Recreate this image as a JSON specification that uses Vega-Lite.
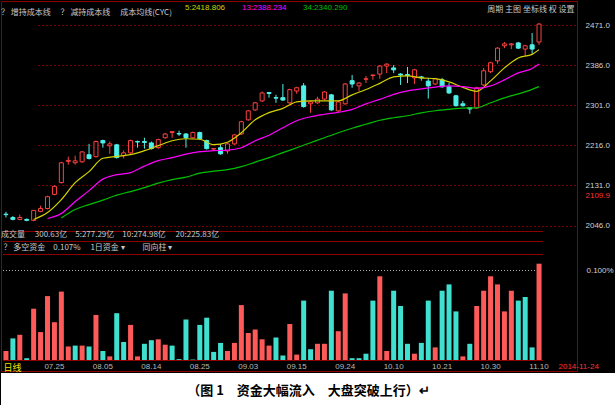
{
  "$schema": "https://vega.github.io/schema/vega-lite/v6.json",
  "background": "#000000",
  "padding": 0,
  "spacing": 0,
  "config": {
    "view": {"stroke": null},
    "font": "Noto Sans CJK SC",
    "axis": {"labelFont": "Liberation Sans", "titleFont": "Noto Sans CJK SC"}
  },
  "datasets": {
    "k": [
      {"d":"07.16","o":2070,"h":2075,"l":2063,"c":2069},
      {"d":"07.17","o":2063,"h":2066,"l":2057,"c":2059},
      {"d":"07.18","o":2059,"h":2069,"l":2057,"c":2063},
      {"d":"07.21","o":2059,"h":2061,"l":2055,"c":2057},
      {"d":"07.22","o":2057,"h":2079,"l":2055,"c":2078},
      {"d":"07.23","o":2076,"h":2088,"l":2074,"c":2082},
      {"d":"07.24","o":2082,"h":2109,"l":2080,"c":2107},
      {"d":"07.25","o":2112,"h":2131,"l":2110,"c":2129},
      {"d":"07.28","o":2137,"h":2181,"l":2135,"c":2179},
      {"d":"07.29","o":2182,"h":2192,"l":2175,"c":2184},
      {"d":"07.30","o":2179,"h":2194,"l":2175,"c":2183},
      {"d":"07.31","o":2181,"h":2204,"l":2179,"c":2202},
      {"d":"08.01","o":2196,"h":2219,"l":2186,"c":2188},
      {"d":"08.04","o":2192,"h":2226,"l":2190,"c":2224},
      {"d":"08.05","o":2226,"h":2228,"l":2211,"c":2221},
      {"d":"08.06","o":2215,"h":2224,"l":2198,"c":2219},
      {"d":"08.07","o":2217,"h":2219,"l":2188,"c":2190},
      {"d":"08.08","o":2194,"h":2205,"l":2188,"c":2200},
      {"d":"08.11","o":2200,"h":2228,"l":2198,"c":2226},
      {"d":"08.12","o":2224,"h":2226,"l":2211,"c":2223},
      {"d":"08.13","o":2224,"h":2232,"l":2209,"c":2222},
      {"d":"08.14","o":2221,"h":2224,"l":2207,"c":2209},
      {"d":"08.15","o":2211,"h":2230,"l":2209,"c":2228},
      {"d":"08.18","o":2232,"h":2242,"l":2230,"c":2240},
      {"d":"08.19","o":2243,"h":2246,"l":2232,"c":2245},
      {"d":"08.20","o":2241,"h":2247,"l":2236,"c":2240},
      {"d":"08.21","o":2240,"h":2242,"l":2211,"c":2232},
      {"d":"08.22","o":2232,"h":2245,"l":2230,"c":2243},
      {"d":"08.25","o":2243,"h":2245,"l":2228,"c":2230},
      {"d":"08.26","o":2226,"h":2228,"l":2207,"c":2209},
      {"d":"08.27","o":2208,"h":2210,"l":2205,"c":2209},
      {"d":"08.28","o":2211,"h":2219,"l":2196,"c":2198},
      {"d":"08.29","o":2204,"h":2221,"l":2198,"c":2219},
      {"d":"09.01","o":2219,"h":2240,"l":2217,"c":2238},
      {"d":"09.02","o":2240,"h":2268,"l":2238,"c":2266},
      {"d":"09.03","o":2270,"h":2291,"l":2268,"c":2289},
      {"d":"09.04","o":2291,"h":2308,"l":2289,"c":2306},
      {"d":"09.05","o":2310,"h":2330,"l":2308,"c":2327},
      {"d":"09.09","o":2328,"h":2329,"l":2317,"c":2326},
      {"d":"09.10","o":2317,"h":2323,"l":2306,"c":2316},
      {"d":"09.11","o":2317,"h":2346,"l":2310,"c":2312},
      {"d":"09.12","o":2306,"h":2336,"l":2304,"c":2334},
      {"d":"09.15","o":2331,"h":2340,"l":2325,"c":2338},
      {"d":"09.16","o":2342,"h":2348,"l":2296,"c":2298},
      {"d":"09.17","o":2304,"h":2310,"l":2285,"c":2308},
      {"d":"09.18","o":2306,"h":2319,"l":2304,"c":2314},
      {"d":"09.19","o":2314,"h":2331,"l":2312,"c":2329},
      {"d":"09.22","o":2323,"h":2325,"l":2289,"c":2291},
      {"d":"09.23","o":2289,"h":2310,"l":2287,"c":2308},
      {"d":"09.24","o":2304,"h":2348,"l":2302,"c":2346},
      {"d":"09.25","o":2353,"h":2365,"l":2338,"c":2346},
      {"d":"09.26","o":2342,"h":2350,"l":2331,"c":2348},
      {"d":"09.29","o":2356,"h":2363,"l":2348,"c":2357},
      {"d":"09.30","o":2364,"h":2366,"l":2355,"c":2365},
      {"d":"10.08","o":2367,"h":2386,"l":2357,"c":2384},
      {"d":"10.09","o":2384,"h":2390,"l":2369,"c":2388},
      {"d":"10.10","o":2380,"h":2386,"l":2369,"c":2376},
      {"d":"10.13","o":2367,"h":2369,"l":2344,"c":2365},
      {"d":"10.14","o":2366,"h":2382,"l":2348,"c":2364},
      {"d":"10.15","o":2359,"h":2378,"l":2346,"c":2376},
      {"d":"10.16","o":2361,"h":2363,"l":2353,"c":2359},
      {"d":"10.17","o":2352,"h":2359,"l":2315,"c":2342},
      {"d":"10.20","o":2346,"h":2359,"l":2344,"c":2357},
      {"d":"10.21","o":2355,"h":2359,"l":2338,"c":2340},
      {"d":"10.22","o":2340,"h":2348,"l":2325,"c":2327},
      {"d":"10.23","o":2321,"h":2323,"l":2298,"c":2300},
      {"d":"10.24","o":2304,"h":2310,"l":2298,"c":2300},
      {"d":"10.27","o":2296,"h":2297,"l":2283,"c":2293},
      {"d":"10.28","o":2295,"h":2340,"l":2293,"c":2338},
      {"d":"10.29","o":2344,"h":2380,"l":2342,"c":2374},
      {"d":"10.30","o":2372,"h":2393,"l":2369,"c":2391},
      {"d":"10.31","o":2395,"h":2424,"l":2389,"c":2422},
      {"d":"11.03","o":2427,"h":2435,"l":2422,"c":2431},
      {"d":"11.04","o":2429,"h":2433,"l":2420,"c":2431},
      {"d":"11.05","o":2433,"h":2435,"l":2420,"c":2422},
      {"d":"11.06","o":2420,"h":2429,"l":2405,"c":2427},
      {"d":"11.07","o":2429,"h":2454,"l":2410,"c":2420},
      {"d":"11.10","o":2435,"h":2475,"l":2429,"c":2473}
    ],
    "ma": [
      {"d":"07.22","m5":2058.7},
      {"d":"07.24","m5":2073.5,"m13":2060.8},
      {"d":"07.28","m5":2101.0,"m13":2071.4,"m34":2062.0},
      {"d":"07.30","m5":2136.9,"m13":2096.8,"m34":2079.8},
      {"d":"08.01","m5":2160.2,"m13":2120.0,"m34":2090.4},
      {"d":"08.05","m5":2188.5,"m13":2144.3,"m34":2099.9},
      {"d":"08.07","m5":2192.5,"m13":2153.8,"m34":2110.5},
      {"d":"08.11","m5":2196.1,"m13":2158.1,"m34":2117.9},
      {"d":"08.13","m5":2204.6,"m13":2171.8,"m34":2126.4},
      {"d":"08.15","m5":2215.2,"m13":2183.4,"m34":2135.9},
      {"d":"08.19","m5":2225.7,"m13":2189.8,"m34":2143.3},
      {"d":"08.21","m5":2229.9,"m13":2197.2,"m34":2148.6},
      {"d":"08.25","m5":2228.9,"m13":2202.5,"m34":2157.0},
      {"d":"08.27","m5":2217.3,"m13":2204.6,"m34":2161.2},
      {"d":"08.29","m5":2222.6,"m13":2205.6,"m34":2164.4},
      {"d":"09.02","m5":2242.6,"m13":2210.9,"m34":2170.8},
      {"d":"09.04","m5":2270.1,"m13":2225.7,"m34":2180.3},
      {"d":"09.09","m5":2285.4,"m13":2237.4,"m34":2189.8},
      {"d":"09.11","m5":2294.4,"m13":2253.2,"m34":2200.4},
      {"d":"09.15","m5":2308.2,"m13":2268.0,"m34":2210.9},
      {"d":"09.17","m5":2310.3,"m13":2276.5,"m34":2221.5},
      {"d":"09.19","m5":2310.3,"m13":2281.8,"m34":2232.1},
      {"d":"09.23","m5":2310.3,"m13":2286.0,"m34":2242.6},
      {"d":"09.25","m5":2323.0,"m13":2292.3,"m34":2252.2},
      {"d":"09.29","m5":2334.2,"m13":2303.9,"m34":2260.6},
      {"d":"10.08","m5":2347.3,"m13":2313.5,"m34":2269.1},
      {"d":"10.10","m5":2361.0,"m13":2324.0,"m34":2274.4},
      {"d":"10.14","m5":2363.2,"m13":2331.5,"m34":2278.6},
      {"d":"10.16","m5":2358.9,"m13":2335.7,"m34":2284.9},
      {"d":"10.20","m5":2357.5,"m13":2339.3,"m34":2289.2},
      {"d":"10.22","m5":2350.5,"m13":2342.0,"m34":2292.3},
      {"d":"10.24","m5":2338.8,"m13":2340.5,"m34":2294.9},
      {"d":"10.28","m5":2330.4,"m13":2336.7,"m34":2295.5},
      {"d":"10.30","m5":2352.6,"m13":2342.0,"m34":2306.1},
      {"d":"11.03","m5":2380.1,"m13":2354.7,"m34":2316.6},
      {"d":"11.05","m5":2401.2,"m13":2369.5,"m34":2325.0},
      {"d":"11.07","m5":2408.8,"m13":2379.0,"m34":2334.6},
      {"d":"11.10","m5":2418.8,"m13":2388.2,"m34":2340.3}
    ],
    "flow": [
      {"d":"07.16","v":0.010,"f":"流入"},
      {"d":"07.17","v":0.024,"f":"流出"},
      {"d":"07.18","v":0.028,"f":"流入"},
      {"d":"07.21","v":0.002,"f":"流出"},
      {"d":"07.22","v":0.057,"f":"流入"},
      {"d":"07.23","v":0.031,"f":"流入"},
      {"d":"07.24","v":0.071,"f":"流入"},
      {"d":"07.25","v":0.042,"f":"流入"},
      {"d":"07.28","v":0.076,"f":"流入"},
      {"d":"07.29","v":0.015,"f":"流入"},
      {"d":"07.30","v":0.016,"f":"流出"},
      {"d":"07.31","v":0.016,"f":"流入"},
      {"d":"08.01","v":0.015,"f":"流出"},
      {"d":"08.04","v":0.050,"f":"流入"},
      {"d":"08.05","v":0.010,"f":"流出"},
      {"d":"08.06","v":0.004,"f":"流入"},
      {"d":"08.07","v":0.052,"f":"流出"},
      {"d":"08.08","v":0.020,"f":"流出"},
      {"d":"08.11","v":0.039,"f":"流入"},
      {"d":"08.12","v":0.004,"f":"流入"},
      {"d":"08.13","v":0.018,"f":"流出"},
      {"d":"08.14","v":0.022,"f":"流出"},
      {"d":"08.15","v":0.023,"f":"流入"},
      {"d":"08.18","v":0.017,"f":"流入"},
      {"d":"08.19","v":0.016,"f":"流出"},
      {"d":"08.20","v":0.001,"f":"流出"},
      {"d":"08.21","v":0.045,"f":"流出"},
      {"d":"08.22","v":0.0005,"f":"流出"},
      {"d":"08.25","v":0.039,"f":"流出"},
      {"d":"08.26","v":0.047,"f":"流出"},
      {"d":"08.27","v":0.009,"f":"流出"},
      {"d":"08.28","v":0.019,"f":"流出"},
      {"d":"08.29","v":0.010,"f":"流入"},
      {"d":"09.01","v":0.019,"f":"流入"},
      {"d":"09.02","v":0.061,"f":"流入"},
      {"d":"09.03","v":0.030,"f":"流入"},
      {"d":"09.04","v":0.034,"f":"流入"},
      {"d":"09.05","v":0.023,"f":"流入"},
      {"d":"09.09","v":0.016,"f":"流入"},
      {"d":"09.10","v":0.025,"f":"流出"},
      {"d":"09.11","v":0.005,"f":"流出"},
      {"d":"09.12","v":0.040,"f":"流入"},
      {"d":"09.15","v":0.006,"f":"流入"},
      {"d":"09.16","v":0.066,"f":"流出"},
      {"d":"09.17","v":0.012,"f":"流出"},
      {"d":"09.18","v":0.018,"f":"流入"},
      {"d":"09.19","v":0.018,"f":"流入"},
      {"d":"09.22","v":0.077,"f":"流出"},
      {"d":"09.23","v":0.032,"f":"流入"},
      {"d":"09.24","v":0.074,"f":"流入"},
      {"d":"09.25","v":0.002,"f":"流出"},
      {"d":"09.26","v":0.002,"f":"流出"},
      {"d":"09.29","v":0.007,"f":"流出"},
      {"d":"09.30","v":0.066,"f":"流出"},
      {"d":"10.08","v":0.093,"f":"流入"},
      {"d":"10.09","v":0.010,"f":"流入"},
      {"d":"10.10","v":0.077,"f":"流出"},
      {"d":"10.13","v":0.060,"f":"流出"},
      {"d":"10.14","v":0.018,"f":"流出"},
      {"d":"10.15","v":0.007,"f":"流入"},
      {"d":"10.16","v":0.019,"f":"流出"},
      {"d":"10.17","v":0.066,"f":"流出"},
      {"d":"10.20","v":0.014,"f":"流入"},
      {"d":"10.21","v":0.077,"f":"流出"},
      {"d":"10.22","v":0.084,"f":"流出"},
      {"d":"10.23","v":0.054,"f":"流出"},
      {"d":"10.24","v":0.004,"f":"流入"},
      {"d":"10.27","v":0.018,"f":"流出"},
      {"d":"10.28","v":0.060,"f":"流入"},
      {"d":"10.29","v":0.077,"f":"流入"},
      {"d":"10.30","v":0.093,"f":"流入"},
      {"d":"10.31","v":0.084,"f":"流入"},
      {"d":"11.03","v":0.054,"f":"流入"},
      {"d":"11.04","v":0.077,"f":"流入"},
      {"d":"11.05","v":0.066,"f":"流出"},
      {"d":"11.06","v":0.070,"f":"流出"},
      {"d":"11.07","v":0.014,"f":"流出"},
      {"d":"11.10","v":0.107,"f":"流入"}
    ]
  },
  "vconcat": [
    {
      "width": 576,
      "height": 370,
      "view": {"fill": "#000000", "stroke": "#8c0000"},
      "title": {
        "text": "？ 增持成本线　 ？ 减持成本线　  成本均线(CYC)",
        "subtitle": "成交量　 300.63亿　5:277.29亿　10:274.98亿　 20:225.83亿",
        "orient": "top",
        "anchor": "start",
        "frame": "group",
        "offset": -238,
        "color": "#c8c8c8",
        "fontSize": 8,
        "fontWeight": "normal",
        "font": "Noto Sans CJK SC",
        "subtitleColor": "#c8c8c8",
        "subtitleFontSize": 8,
        "subtitleFont": "Noto Sans CJK SC",
        "subtitlePadding": 214
      },
      "resolve": {"scale": {"y": "independent"}},
      "layer": [
        {
          "data": {"name": "k"},
          "mark": {"type": "rule", "strokeWidth": 1},
          "encoding": {
            "x": {
              "field": "d", "type": "ordinal",
              "scale": {"type": "band", "range": [1.5, 541.5], "paddingInner": 0, "paddingOuter": 0},
              "axis": {
                "orient": "bottom", "offset": -11,
                "values": ["07.25","08.05","08.14","08.25","09.03","09.15","09.24","10.10","10.21","10.30","11.10"],
                "domain": false, "ticks": false, "grid": false, "labelAngle": 0,
                "labelColor": "#b8b8b8", "labelFontSize": 8, "labelPadding": 2,
                "title": "日线",
                "titleX": 2, "titleY": 7, "titleAlign": "left", "titleBaseline": "middle",
                "titleColor": "#e8e800", "titleFontSize": 9, "titleFontWeight": "normal"
              }
            },
            "y": {
              "field": "l", "type": "quantitative",
              "scale": {"domain": [1737.6, 2521.9], "nice": false, "zero": false},
              "axis": {
                "orient": "right",
                "values": [2046, 2109.9, 2131, 2216, 2301, 2386, 2471],
                "format": ".1f",
                "labelColor": {"condition": {"test": "datum.value == 2109.9", "value": "#ff3030"}, "value": "#d0d0d0"},
                "labelFontSize": 8, "labelPadding": 8, "ticks": false, "labelOverlap": false,
                "domainColor": "#8c0000", "domainWidth": 1,
                "grid": true, "gridColor": "#7a0000", "gridDash": [2, 2],
                "gridOpacity": {"condition": {"test": "datum.value == 2109.9", "value": 0}, "value": 1},
                "title": "2014-11-24",
                "titleX": -19, "titleY": 365, "titleAngle": 0, "titleAlign": "left", "titleBaseline": "middle",
                "titleColor": "#ff3030", "titleFontSize": 8, "titleFontWeight": "normal", "titleFont": "Liberation Sans"
              }
            },
            "y2": {"field": "h"},
            "color": {"condition": {"test": "datum.c >= datum.o", "value": "#ff4040"}, "value": "#50f0e8"}
          }
        },
        {
          "data": {"name": "k"},
          "mark": {"type": "bar", "size": 4, "strokeWidth": 1},
          "encoding": {
            "x": {"field": "d", "type": "ordinal", "axis": null},
            "y": {"field": "o", "type": "quantitative", "scale": {"domain": [1737.6, 2521.9], "nice": false, "zero": false}, "axis": null},
            "y2": {"field": "c"},
            "fill": {"condition": {"test": "datum.c >= datum.o", "value": "#000000"}, "value": "#50f0e8"},
            "stroke": {"condition": {"test": "datum.c >= datum.o", "value": "#ff4040"}, "value": "#50f0e8"}
          }
        },
        {
          "data": {"name": "ma"},
          "transform": [{"fold": ["m5", "m13", "m34"], "as": ["s", "v"]}],
          "mark": {"type": "line", "strokeWidth": 1.2, "interpolate": "monotone"},
          "encoding": {
            "x": {
              "field": "d", "type": "ordinal",
              "axis": {
                "orient": "top", "labels": false, "ticks": false, "domain": false, "grid": false,
                "title": "周期  主图  坐标线  权  设置",
                "titleX": 573, "titleY": 8, "titleAlign": "right", "titleBaseline": "middle",
                "titleColor": "#c8c8c8", "titleFontSize": 8, "titleFontWeight": "normal"
              }
            },
            "y": {"field": "v", "type": "quantitative", "scale": {"domain": [1737.6, 2521.9], "nice": false, "zero": false}, "axis": null},
            "stroke": {
              "field": "s", "type": "nominal",
              "scale": {"domain": ["m5", "m13", "m34"], "range": ["#d4d400", "#ff00ff", "#00c000"]},
              "legend": {
                "orient": "none", "legendX": 176, "legendY": 3, "direction": "horizontal",
                "title": null, "symbolSize": 0, "symbolOpacity": 0, "symbolStrokeWidth": 0,
                "labelOffset": 0, "columnPadding": 8, "padding": 0,
                "labelFont": "Liberation Sans", "labelFontSize": 8,
                "labelExpr": "datum.value == 'm5' ? '5:2418.806' : datum.value == 'm13' ? '13:2388.234' : '34:2340.290'",
                "encode": {"labels": {"update": {"fill": {"signal": "datum.value == 'm5' ? '#d4d400' : datum.value == 'm13' ? '#ff00ff' : '#00c000'"}}}}
              }
            }
          }
        },
        {
          "data": {"name": "flow"},
          "mark": {"type": "bar", "size": 5},
          "encoding": {
            "x": {"field": "d", "type": "ordinal", "axis": null},
            "y": {
              "field": "v", "type": "quantitative",
              "scale": {"domain": [-0.01222, 0.39889], "nice": false, "zero": false},
              "axis": {
                "orient": "left", "offset": -576,
                "values": [0, 0.1, 0.11833, 0.13222, 0.14333],
                "labelExpr": "datum.value == 0.1 ? '0.100%' : ''",
                "labelAlign": "left", "labelPadding": -9, "labelColor": "#d0d0d0", "labelFontSize": 8,
                "labelBaseline": "middle", "labelOverlap": false,
                "ticks": false, "domain": false,
                "grid": true,
                "gridColor": {"condition": {"test": "datum.value == 0.1", "value": "#b0b0b0"}, "value": "#8c0000"},
                "gridDash": {"condition": {"test": "datum.value == 0.1", "value": [1, 2]}, "value": []},
                "title": "？ 多空资金　0.107%　 1日资金 ▾　　 同向柱 ▾",
                "titleX": -574, "titleY": 246, "titleAngle": 0, "titleAlign": "left", "titleBaseline": "middle",
                "titleColor": "#c8c8c8", "titleFontSize": 8, "titleFontWeight": "normal"
              }
            },
            "y2": {"datum": 0},
            "fill": {"field": "f", "type": "nominal", "scale": {"domain": ["流入", "流出"], "range": ["#ff5a5a", "#40e0d0"]}, "legend": null}
          }
        }
      ]
    },
    {
      "width": 615,
      "height": 35,
      "view": {"fill": "#ffffff", "stroke": null},
      "data": {"values": [{"caption": "（图 1　资金大幅流入　大盘突破上行）↵"}]},
      "mark": {"type": "text", "font": "Noto Sans CJK SC", "fontSize": 13, "fontWeight": "bold", "color": "#000000"},
      "encoding": {"text": {"field": "caption", "type": "nominal"}}
    }
  ]
}
